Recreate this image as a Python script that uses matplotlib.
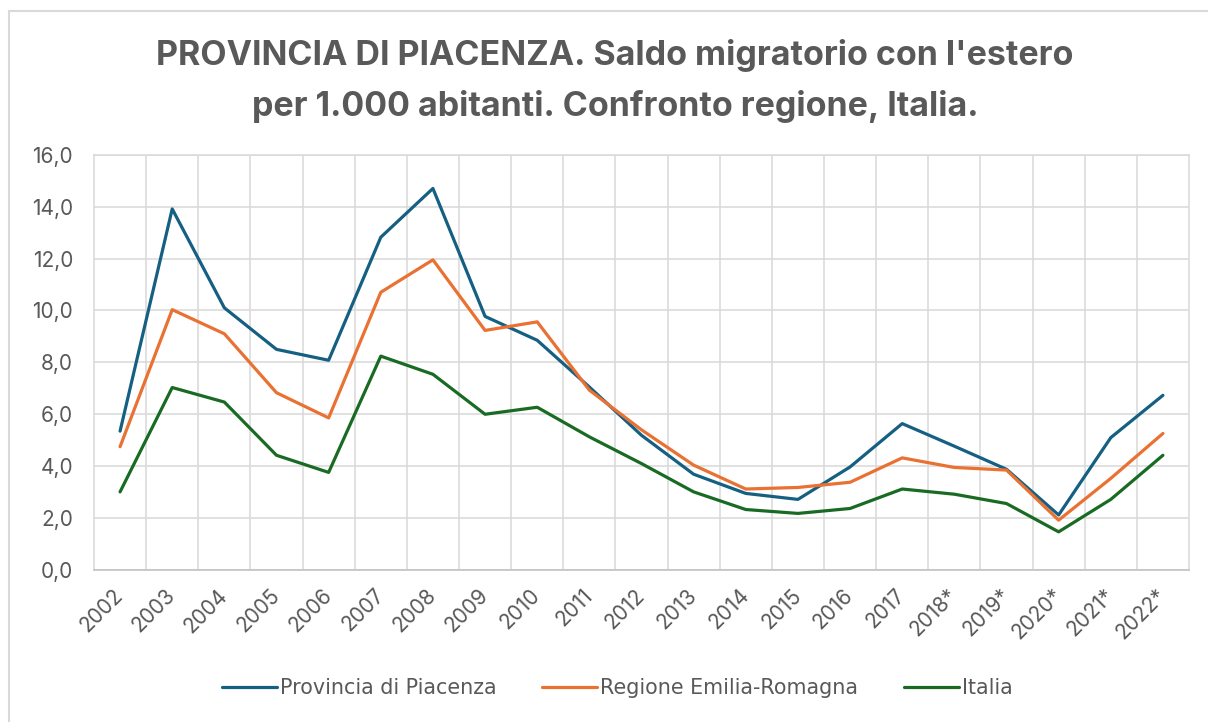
import matplotlib
matplotlib.use("Agg")
import matplotlib.pyplot as plt
from matplotlib.patches import Rectangle
from matplotlib.ticker import FuncFormatter, MultipleLocator

plt.rcParams['font.family'] = ['Inter', 'DejaVu Sans']

# data
anni = ['2002', '2003', '2004', '2005', '2006', '2007', '2008', '2009', '2010', '2011',
        '2012', '2013', '2014', '2015', '2016', '2017', '2018*', '2019*', '2020*', '2021*', '2022*']
piacenza = [5.35, 13.91, 10.1, 8.5, 8.08, 12.82, 14.7, 9.77, 8.85, 7.05,
            5.19, 3.69, 2.95, 2.72, 3.97, 5.64, 4.77, 3.88, 2.12, 5.1, 6.73]
emilia = [4.75, 10.03, 9.1, 6.83, 5.86, 10.7, 11.95, 9.23, 9.56, 6.93,
          5.4, 4.04, 3.12, 3.18, 3.38, 4.32, 3.95, 3.85, 1.92, 3.53, 5.26]
italia = [3.01, 7.03, 6.47, 4.42, 3.76, 8.24, 7.54, 6.0, 6.27, 5.13,
          4.1, 3.01, 2.33, 2.18, 2.37, 3.12, 2.92, 2.56, 1.47, 2.72, 4.42]

testo = '#595959'
griglia = '#d9d9d9'

fig = plt.figure(figsize=(12.08, 7.22), dpi=100)
ax = fig.add_axes([94/1208, 1-570/722, (1189-94)/1208, (570-154.7)/722])

x = range(len(anni))
ax.plot(x, piacenza, color='#156082', lw=2.3, label='Provincia di Piacenza', solid_capstyle='round')
ax.plot(x, emilia, color='#E97132', lw=2.3, label='Regione Emilia-Romagna', solid_capstyle='round')
ax.plot(x, italia, color='#196B24', lw=2.3, label='Italia', solid_capstyle='round')

ax.set_xlim(-0.5, len(anni) - 0.5)
ax.set_ylim(0, 16)
ax.yaxis.set_major_locator(MultipleLocator(2))
ax.yaxis.set_major_formatter(FuncFormatter(lambda v, p: f'{v:.1f}'.replace('.', ',')))
ax.set_xticks(list(x))
ax.set_xticklabels(anni, rotation=45, ha='right', va='center', rotation_mode='anchor')
ax.set_xticks([i + 0.5 for i in range(len(anni) - 1)], minor=True)

ax.grid(True, which='major', axis='y', color=griglia, lw=1.1)
ax.grid(True, which='minor', axis='x', color=griglia, lw=1.1)
ax.set_axisbelow(True)
ax.tick_params(which='both', length=0)
ax.tick_params(axis='y', labelsize=15, labelcolor=testo, pad=15)
ax.tick_params(axis='x', labelsize=15, labelcolor=testo, pad=16)
for s in ax.spines.values():
    s.set_color(griglia)
    s.set_linewidth(1.1)
ax.spines['bottom'].set_color('#bfbfbf')

fig.text(0.509, 1-65/722, "PROVINCIA DI PIACENZA. Saldo migratorio con l'estero",
         ha='center', va='baseline', fontsize=24.5, fontweight='bold', color=testo)
fig.text(0.509, 1-116/722, "per 1.000 abitanti. Confronto regione, Italia.",
         ha='center', va='baseline', fontsize=24.5, fontweight='bold', color=testo)

fig.legend(loc='center', bbox_to_anchor=(0.511, 1-688/722), ncol=3, frameon=False,
           prop={'family': ['Liberation Sans Narrow', 'DejaVu Sans'], 'size': 14.9},
           labelcolor=testo, handlelength=2.65, handletextpad=0.15, columnspacing=2.2)

fig.patches.append(Rectangle((9/1208, -0.1), 1.2, 1-11/722+0.1, transform=fig.transFigure,
                             fill=False, edgecolor=griglia, lw=1.5))

fig.savefig('out.png', dpi=100)
